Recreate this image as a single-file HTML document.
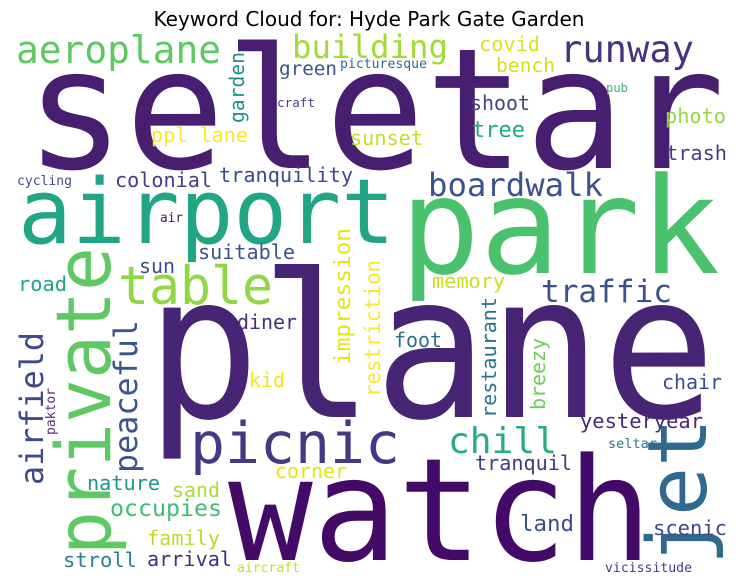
<!DOCTYPE html>
<html><head><meta charset="utf-8"><style>
html,body{margin:0;padding:0;background:#fff;}
svg{display:block;}
text{font-family:"DejaVu Sans Mono","Liberation Mono",monospace;}
</style></head><body>
<svg id="cloud" width="738" height="583" viewBox="0 0 738 583" xmlns="http://www.w3.org/2000/svg">
<rect width="738" height="583" fill="#fff"/>
<text x="369" y="26" text-anchor="middle" font-size="20" style="font-family:'DejaVu Sans','Liberation Sans',sans-serif" fill="#000">Keyword Cloud for: Hyde Park Gate Garden</text>
<g id="words"></g>
</svg>
<script>
const words = ["seletar","airport","park","plane","watch","private","jet","picnic","table","aeroplane","building","runway","covid","bench","picturesque","green","garden","craft","pub","shoot","photo","tree","sunset","ppl lane","trash","colonial","tranquility","cycling","boardwalk","air","suitable","sun","road","impression","restriction","memory","traffic","restaurant","foot","breezy","diner","peaceful","airfield","paktor","kid","chair","chill","yesteryear","seltar","tranquil","corner","nature","sand","occupies","land","scenic","family","stroll","arrival","aircraft","vicissitude"];
const sizes = [168,90,134,200,143,76,82,57,53,38,32,37,20,19.5,13,19,20,12.7,12,20,20.5,22,20,20,20,20,20,13,32,13,20,20,20,22,21,20,31,20,20,20,20,32,32,13,20,20,36,20.5,13,20,20,20,20,23,22,20.5,20,20.5,20,13,13];
const layout = [
[25,168,700,0],[18,243,377,0],[400,273,320,0],[146,417,570,0],[228,560,424,0],[110,555,308,1],[706,565,147,1],[190,463,210,0],[118,304,155,0],[16,63,205,0],[292,58,156,0],[560,62,134,0],[479,51,61,0],[496,72,59,0],[340,68,87,0],[279,75,58,0],[244,123,71,1],[277,107,38,0],[606,92,22,0],[470,110,60,0],[665,123,61,0],[472,137,53,0],[350,145,73,0],[151,142,97,0],[666,160,61,0],[115,187,97,0],[219,182,134,0],[17,185,55,0],[428,196,175,0],[160,222,23,0],[198,259,97,0],[139,273,36,0],[18,291,49,0],[350,365,137,1],[380,397,137,1],[432,288,73,0],[541,302,131,0],[496,418,121,1],[394,347,48,0],[545,410,72,1],[237,329,60,0],[137,473,153,1],[43,485,153,1],[55,435,47,1],[249,387,36,0],[662,389,60,0],[448,453,109,0],[580,428,123,0],[608,448,49,0],[475,470,97,0],[275,478,72,0],[87,490,73,0],[172,497,48,0],[110,516,112,0],[520,531,54,0],[653,535,74,0],[147,545,73,0],[63,567,74,0],[147,566,85,0],[237,572,63,0],[605,572,87,0]
];
const colors = ["#481f70","#21a585","#4ac16d","#482475","#440a68","#5ec962","#31688e","#443983","#8fd744","#5ec962","#a2da37","#46327e","#dde318","#d0e11c","#31688e","#3b528b","#21918c","#414487","#35b779","#414487","#95d840","#22a884","#c2df23","#fde725","#433e85","#433e85","#3e4989","#3e4c8a","#3b528b","#481769","#3b528b","#3e4989","#20a386","#e5e419","#fde725","#c8e020","#3b528b","#2c728e","#2c728e","#6ccd5a","#46307e","#3a548c","#3e4a89","#5b2a80","#f1e51d","#3e4c8a","#25ac82","#482878","#2a788e","#443a83","#e2e418","#1f958b","#a8db34","#3dbc74","#3e4c8a","#3e4989","#b5de2b","#26828e","#472d7b","#c0df25","#433e85"];
const g = document.getElementById('words');
const NS = "http://www.w3.org/2000/svg";
words.forEach((w,i)=>{
  const [x,y,len,rot] = layout[i];
  const t = document.createElementNS(NS,'text');
  
  
  t.setAttribute('x', x);
  t.setAttribute('y', y);
  t.setAttribute('font-size', sizes[i]);
  t.setAttribute('fill', colors[i]);
  t.setAttribute('textLength', len);
  t.setAttribute('lengthAdjust', 'spacingAndGlyphs');
  if (rot) t.setAttribute('transform', 'rotate(-90 ' + x + ' ' + y + ')');
  t.textContent = w;
  g.appendChild(t);
});
</script>
</body></html>
